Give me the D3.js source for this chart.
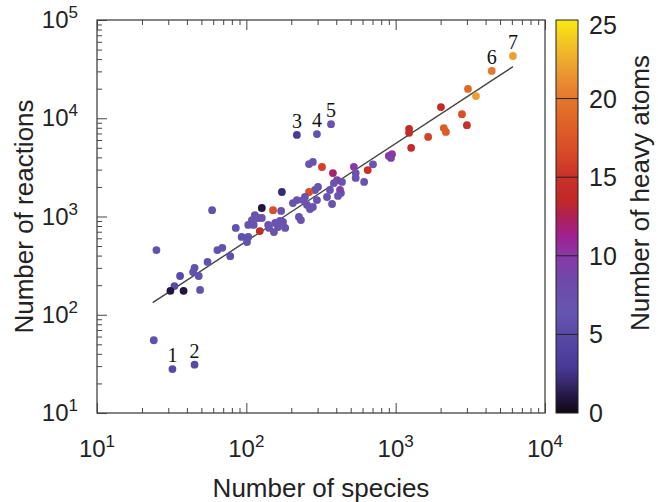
<!DOCTYPE html>
<html>
<head>
<meta charset="utf-8">
<script src="https://cdn.jsdelivr.net/npm/d3@7"></script>
<style>
  body { margin: 0; background: #fff; }
  svg { display: block; font-family: 'Liberation Sans', Arial, sans-serif; }
</style>
</head>
<body>
<svg id="graf" width="658" height="502"></svg>
<script>
// I. Datos
// puntos etiquetados 1..7
labels     = ['1', '2', '3', '4', '5', '6', '7']
labSpecies   = [32, 45, 218, 297, 369, 4400, 6100]
labReactions = [28, 31, 6760, 6900, 8700, 30300, 43000]
labHeavy     = [5, 5, 3, 6, 7, 20, 22]

// resto de mecanismos
species = [24, 3050, 3450, 2010, 2780, 3000, 2100, 2170, 1230, 1230, 1650, 1270,
  900, 945, 930, 705, 650, 525, 540, 540, 615, 437, 430, 263, 279, 321, 380, 405,
  386, 302, 288, 263, 363, 424, 411, 247, 218, 205, 255, 297, 375, 279, 347, 173,
  127, 151, 171, 240, 59, 114, 120, 109, 127, 103, 112, 123, 140, 156, 168, 163,
  182, 153, 142, 85, 93, 101, 103, 225, 232, 267, 69, 64, 25, 78, 55, 45, 44, 48,
  36, 33, 31, 38, 49, 111, 176]
reactions = [55, 19900, 16800, 13000, 11000, 8500, 7950, 7250, 7800, 7100, 6450, 5000,
  4130, 4300, 3950, 3400, 2970, 3200, 2770, 2470, 2250, 2250, 1730, 3420, 3590, 3190, 2770, 2350,
  2190, 2000, 1860, 1775, 1860, 1860, 1620, 1580, 1470, 1370, 1310, 1470, 1340, 1250, 1580, 1775,
  1220, 1160, 1140, 1470, 1160, 1035, 965, 920, 965, 820, 820, 710, 820, 860, 900, 780,
  765, 695, 765, 765, 620, 550, 620, 990, 920, 1190, 480, 455, 455, 395, 345, 300, 272, 248,
  248, 196, 175, 175, 179, 860, 880]
heavy = [6, 19, 22, 14, 17, 15, 18, 18, 14, 14, 16, 14,
  10, 10, 9, 7, 15, 10, 7, 7, 7, 7, 7, 7, 7, 16, 12, 9,
  7, 7, 7, 17, 7, 9, 7, 7, 7, 7, 7, 7, 7, 7, 7, 2,
  1, 17, 7, 7, 6, 7, 7, 7, 7, 7, 7, 14, 7, 7, 7, 7,
  7, 7, 7, 6, 6, 6, 6, 7, 7, 7, 6, 6, 6, 6, 6, 6, 6, 6,
  5, 5, 1, 1, 6, 7, 7]

// recta de ajuste (extremos leídos)
fitSpecies   = [23.6, 6100]
fitReactions = [133, 33500]

// ticks
xPowers = [1, 2, 3, 4]
yPowers = [1, 2, 3, 4, 5]
cbTicks = [0, 5, 10, 15, 20, 25]
cbLines = [5, 10, 15, 20]

// mapa de color (número de átomos pesados)
cmapStops  = [0, 1, 2, 3, 5, 6.5, 8.5, 10, 11.3, 12.6, 13.4, 15, 16.5, 19, 20.5, 22, 24, 25]
cmapColors = ['#100810', '#221640', '#3a2a72', '#4a3a98', '#5a4aa8', '#6656b0', '#7048a8',
  '#8a38a8', '#a0208f', '#b02050', '#c02828', '#c83028', '#d84828', '#e06a28', '#e88030',
  '#eca030', '#f4d020', '#fbea10']

// II. Configuración
svg = d3.select('#graf')
margins = { top: 20, left: 97, right: 113, bottom: 89 }
ancho = 658 - margins.left - margins.right
alto  = 502 - margins.top - margins.bottom

x = d3.scaleLog().domain([10, 1e4]).range([margins.left, margins.left + ancho])
y = d3.scaleLog().domain([10, 1e5]).range([margins.top + alto, margins.top])
color = d3.scaleLinear().domain(cmapStops).range(cmapColors)

frameColor = '#444'

function minorTicks(lo, hi) {
  out = []
  for (p = lo; p < hi; p++) {
    for (m = 2; m <= 9; m++) out.push(m * Math.pow(10, p))
  }
  return out
}

function drawAxis(axisFn, scale, vals, size, transform) {
  g = svg.append('g')
    .attr('transform', transform)
    .call(axisFn(scale).tickValues(vals).tickSize(-size).tickFormat(''))
  g.select('.domain').remove()
  g.selectAll('line').attr('stroke', frameColor).attr('stroke-width', 1)
}

xMaj = xPowers.map(p => Math.pow(10, p))
yMaj = yPowers.map(p => Math.pow(10, p))
xMin = minorTicks(1, 4)
yMin = minorTicks(1, 5)

// abajo, arriba, izquierda (ticks hacia dentro)
drawAxis(d3.axisBottom, x, xMin, 5, `translate(0, ${margins.top + alto})`)
drawAxis(d3.axisBottom, x, xMaj, 10, `translate(0, ${margins.top + alto})`)
drawAxis(d3.axisTop, x, xMin, 5, `translate(0, ${margins.top})`)
drawAxis(d3.axisTop, x, xMaj, 10, `translate(0, ${margins.top})`)
drawAxis(d3.axisLeft, y, yMin, 5, `translate(${margins.left}, 0)`)
drawAxis(d3.axisLeft, y, yMaj, 10, `translate(${margins.left}, 0)`)

svg.append('rect')
  .attr('x', margins.left).attr('y', margins.top)
  .attr('width', ancho).attr('height', alto)
  .attr('fill', 'none').attr('stroke', frameColor).attr('stroke-width', 1.3)

// etiquetas de ticks 10^n
xt = svg.append('g').selectAll('text').data(xPowers).join('text')
  .attr('x', d => x(Math.pow(10, d)))
  .attr('y', margins.top + alto + 44)
  .attr('text-anchor', 'middle')
  .attr('font-size', 24)
  .attr('fill', '#222')
xt.append('tspan').text('10')
xt.append('tspan').attr('dy', -10).attr('font-size', 17).text(d => d)

yt = svg.append('g').selectAll('text').data(yPowers).join('text')
  .attr('x', margins.left - 19)
  .attr('y', d => y(Math.pow(10, d)) + 8)
  .attr('text-anchor', 'end')
  .attr('font-size', 24)
  .attr('fill', '#222')
yt.append('tspan').text('10')
yt.append('tspan').attr('dy', -10).attr('font-size', 17).text(d => d)

// títulos
svg.append('text')
  .attr('x', margins.left + ancho / 2).attr('y', 497)
  .attr('text-anchor', 'middle').attr('font-size', 26).attr('fill', '#222')
  .text('Number of species')

svg.append('text')
  .attr('transform', `translate(33, ${margins.top + alto / 2}) rotate(-90)`)
  .attr('text-anchor', 'middle').attr('font-size', 26).attr('fill', '#222')
  .text('Number of reactions')

// III. Marcas
svg.append('line')
  .attr('x1', x(fitSpecies[0])).attr('y1', y(fitReactions[0]))
  .attr('x2', x(fitSpecies[1])).attr('y2', y(fitReactions[1]))
  .attr('stroke', '#444').attr('stroke-width', 1.4)

pts = species.map((s, i) => ({ s: s, r: reactions[i], h: heavy[i] }))
lab = labSpecies.map((s, i) => ({ s: s, r: labReactions[i], h: labHeavy[i], t: labels[i] }))

svg.append('g').selectAll('circle').data(pts.concat(lab)).join('circle')
  .attr('cx', d => x(d.s))
  .attr('cy', d => y(d.r))
  .attr('r', 3.9)
  .attr('fill', d => color(d.h))

svg.append('g').selectAll('text').data(lab).join('text')
  .attr('x', d => x(d.s))
  .attr('y', d => y(d.r) - 7)
  .attr('text-anchor', 'middle')
  .attr('font-family', "'Liberation Serif', 'Times New Roman', serif")
  .attr('font-size', 20)
  .attr('fill', '#111')
  .text(d => d.t)

// IV. Barra de color
cbX = 556, cbW = 22
cb = d3.scaleLinear().domain([0, 25]).range([margins.top + alto, margins.top])

grad = svg.append('defs').append('linearGradient')
  .attr('id', 'cbgrad')
  .attr('x1', 0).attr('y1', 1).attr('x2', 0).attr('y2', 0)
grad.selectAll('stop').data(cmapStops).join('stop')
  .attr('offset', d => d / 25)
  .attr('stop-color', (d, i) => cmapColors[i])

svg.append('rect')
  .attr('x', cbX).attr('y', cb(25))
  .attr('width', cbW).attr('height', cb(0) - cb(25))
  .attr('fill', 'url(#cbgrad)')
  .attr('stroke', '#222').attr('stroke-width', 1)

svg.append('g').selectAll('line').data(cbLines).join('line')
  .attr('x1', cbX).attr('x2', cbX + cbW)
  .attr('y1', d => cb(d)).attr('y2', d => cb(d))
  .attr('stroke', '#222').attr('stroke-width', 1)

svg.append('g').selectAll('text').data(cbTicks).join('text')
  .attr('x', 589)
  .attr('y', d => cb(d) + 9 + (d === 25 ? 5 : 0))
  .attr('font-size', 25)
  .attr('fill', '#222')
  .text(d => d)

svg.append('text')
  .attr('transform', `translate(649, 193) rotate(-90)`)
  .attr('text-anchor', 'middle').attr('font-size', 26).attr('fill', '#222')
  .text('Number of heavy atoms')
</script>
</body>
</html>
